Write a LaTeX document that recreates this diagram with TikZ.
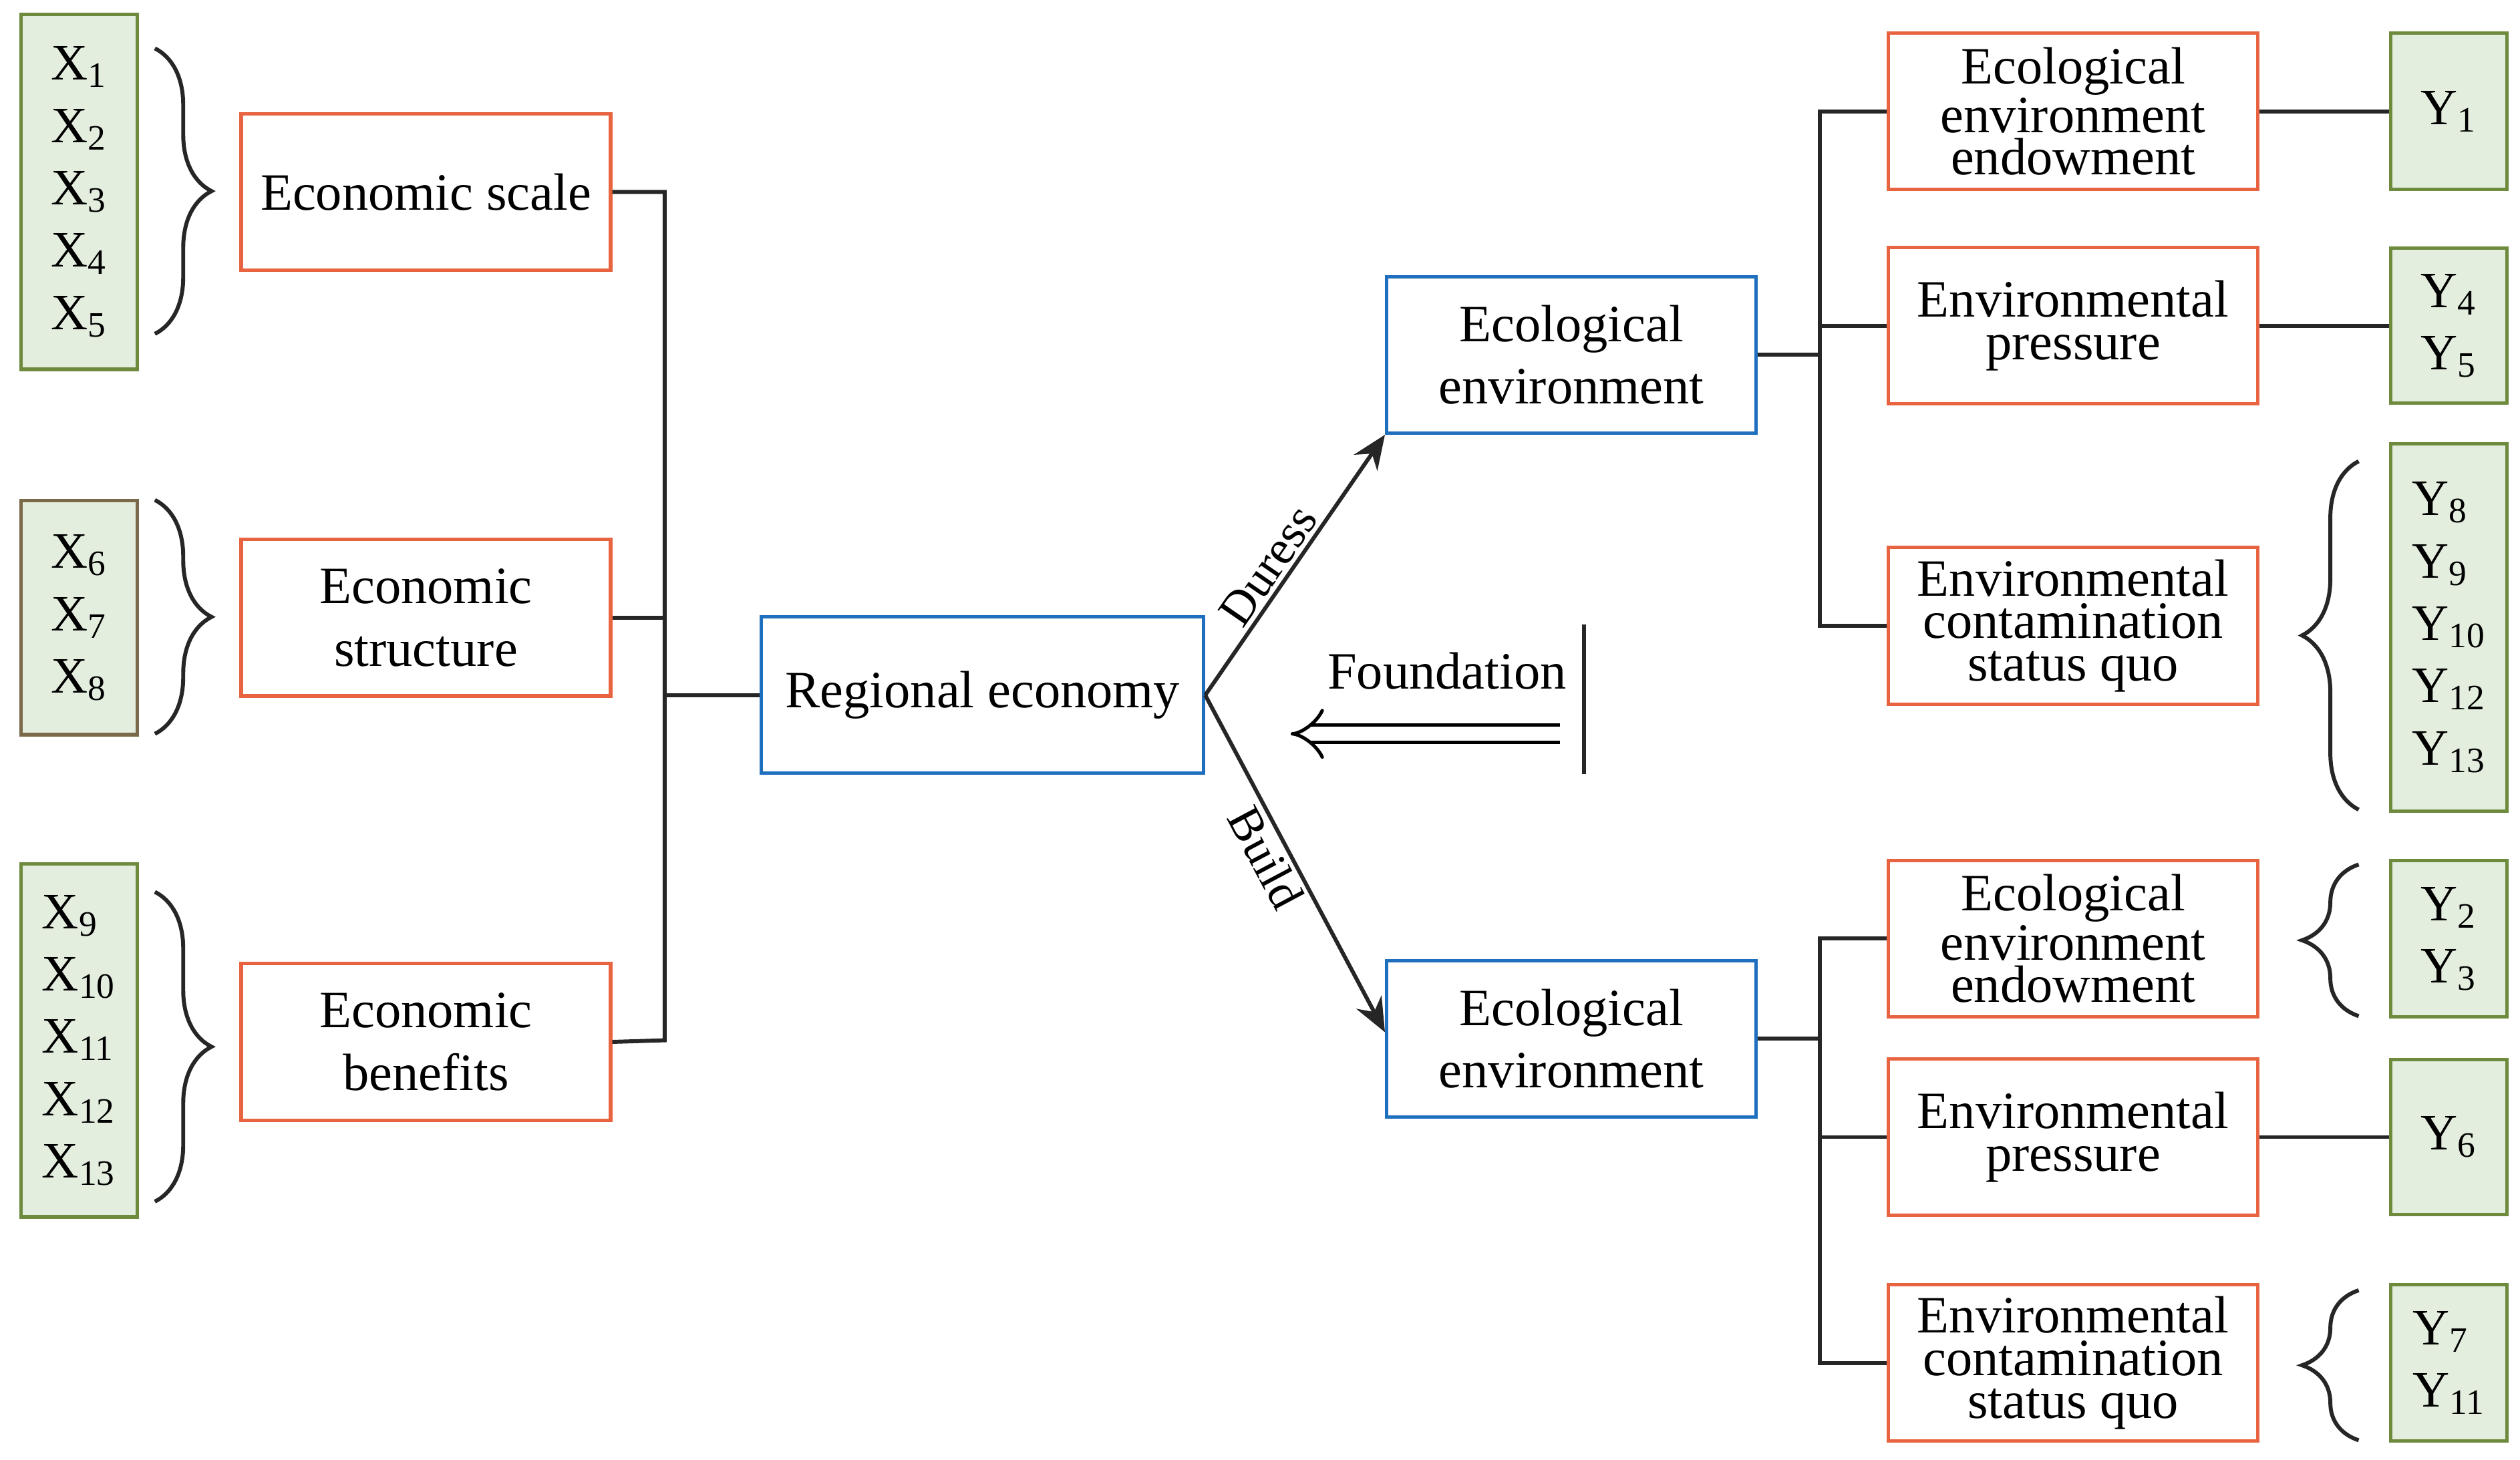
\documentclass[tikz,border=0pt]{standalone}
\usepackage{fontspec}
\setmainfont{Liberation Serif}
\usetikzlibrary{decorations.pathreplacing,arrows.meta}
\definecolor{ora}{HTML}{E8633F}
\definecolor{blu}{HTML}{1F6FBF}
\definecolor{grn}{HTML}{6E8B3D}
\definecolor{grf}{HTML}{E3EEDF}
\definecolor{brn}{HTML}{7A6A4A}
\begin{document}
\begin{tikzpicture}[x=0.02cm,y=-0.02cm,
 lw/.style={line width=1.4pt,draw=black!85},
 base/.style={line width=1.2pt,minimum width=229*0.02cm,minimum height=97*0.02cm,align=center,inner sep=0pt},
 ob/.style={base,draw=ora,font=\fontsize{18.5}{15}\selectfont},
 ob2/.style={base,draw=ora,font=\fontsize{18.5}{22}\selectfont},
 bb/.style={base,draw=blu,font=\fontsize{18.5}{22}\selectfont},
 gb/.style={line width=1.2pt,draw=grn,fill=grf,minimum width=72*0.02cm,align=left,inner sep=0pt,font=\fontsize{18}{22}\selectfont},
 br/.style={lw,decorate,decoration={brace,amplitude=20pt}}]
\useasboundingbox (0,0) rectangle (1562,905);
% left green
\node[gb,minimum height=220*0.02cm] (x1) at (49,119) {X\textsubscript{1}\\X\textsubscript{2}\\X\textsubscript{3}\\X\textsubscript{4}\\X\textsubscript{5}};
\node[gb,draw=brn,minimum height=145*0.02cm] (x6) at (49,383) {X\textsubscript{6}\\X\textsubscript{7}\\X\textsubscript{8}};
\node[gb,minimum height=219*0.02cm] (x9) at (49,645) {X\textsubscript{9}\\X\textsubscript{10}\\X\textsubscript{11}\\X\textsubscript{12}\\X\textsubscript{13}};
\coordinate (b1a) at (96,30); \coordinate (b1b) at (96,207);
\coordinate (b2a) at (96,310); \coordinate (b2b) at (96,455);
\coordinate (b3a) at (96,553); \coordinate (b3b) at (96,745);
\draw[br] (b1a) -- (b1b); \draw[br] (b2a) -- (b2b); \draw[br] (b3a) -- (b3b);
% orange left
\node[ob2] (es) at (264,119) {Economic scale};
\node[ob2] (est) at (264,383) {Economic\\structure};
\node[ob2] (eb) at (264,646) {Economic\\benefits};
\node[bb,minimum width=274*0.02cm] (re) at (609,431) {Regional economy};
\coordinate (j1) at (412,119); \coordinate (j3) at (412,645); \coordinate (j2) at (412,431);
\draw[lw] (es.east) -- (j1) -- (j3) -- (eb.east);
\draw[lw] (est.east) -- (412,383);
\draw[lw] (j2) -- (re.west);
% ecological environment
\node[bb] (ee1) at (974,220) {Ecological\\environment};
\node[bb] (ee2) at (974,644) {Ecological\\environment};
\draw[lw,-{Stealth[length=12pt,width=10pt]}] (re.east) -- node[above,sloped,font=\fontsize{17}{17}\selectfont,pos=0.45,yshift=-2pt] {Duress} (ee1.south west);
\draw[lw,-{Stealth[length=12pt,width=10pt]}] (re.east) -- node[below,sloped,font=\fontsize{17}{17}\selectfont,pos=0.45,yshift=2pt] {Build} (ee2.west|-0,640);
\node[font=\fontsize{18.5}{18}\selectfont] (fd) at (897,416) {Foundation};
\coordinate (da) at (967,455); \coordinate (db) at (800,455);
\draw[line width=1.2pt,double distance=5pt,-{Implies[]}] (da) -- (db);
\coordinate (va) at (982,387); \coordinate (vb) at (982,480);
\draw[lw] (va) -- (vb);
% right top
\node[ob] (r1) at (1285,69) {Ecological\\environment\\endowment};
\node[ob] (r2) at (1285,202) {Environmental\\pressure};
\node[ob] (r3) at (1285,388) {Environmental\\contamination\\status quo};
\draw[lw] (ee1.east) -- (1128,220);
\draw[lw] (r1.west) -- (1128,69) -- (1128,388) -- (r3.west);
\draw[lw] (r2.west) -- (1128,202);
% right bottom
\node[ob] (r4) at (1285,582) {Ecological\\environment\\endowment};
\node[ob] (r5) at (1285,705) {Environmental\\pressure};
\node[ob] (r6) at (1285,845) {Environmental\\contamination\\status quo};
\draw[lw] (ee2.east) -- (1128,644);
\draw[lw] (r4.west) -- (1128,582) -- (1128,845) -- (r6.west);
\draw[lw] (r5.west) -- (1128,705);
% Y boxes
\node[gb,minimum height=97*0.02cm] (y1) at (1518,69) {Y\textsubscript{1}};
\node[gb,minimum height=96*0.02cm] (y4) at (1518,202) {Y\textsubscript{4}\\Y\textsubscript{5}};
\node[gb,minimum height=228*0.02cm] (y8) at (1518,389) {Y\textsubscript{8}\\Y\textsubscript{9}\\Y\textsubscript{10}\\Y\textsubscript{12}\\Y\textsubscript{13}};
\node[gb,minimum height=97*0.02cm] (y2) at (1518,582) {Y\textsubscript{2}\\Y\textsubscript{3}};
\node[gb,minimum height=96*0.02cm] (y6) at (1518,705) {Y\textsubscript{6}};
\node[gb,minimum height=97*0.02cm] (y7) at (1518,845) {Y\textsubscript{7}\\Y\textsubscript{11}};
\draw[lw] (r1.east) -- (y1.west);
\draw[lw] (r2.east) -- (y4.west);
\draw[lw] (r5.east) -- (y6.west);
\coordinate (c1a) at (1462,502); \coordinate (c1b) at (1462,286);
\coordinate (c2a) at (1462,630); \coordinate (c2b) at (1462,536);
\coordinate (c3a) at (1462,893); \coordinate (c3b) at (1462,800);
\draw[br] (c1a) -- (c1b); \draw[br] (c2a) -- (c2b); \draw[br] (c3a) -- (c3b);
\end{tikzpicture}
\end{document}
